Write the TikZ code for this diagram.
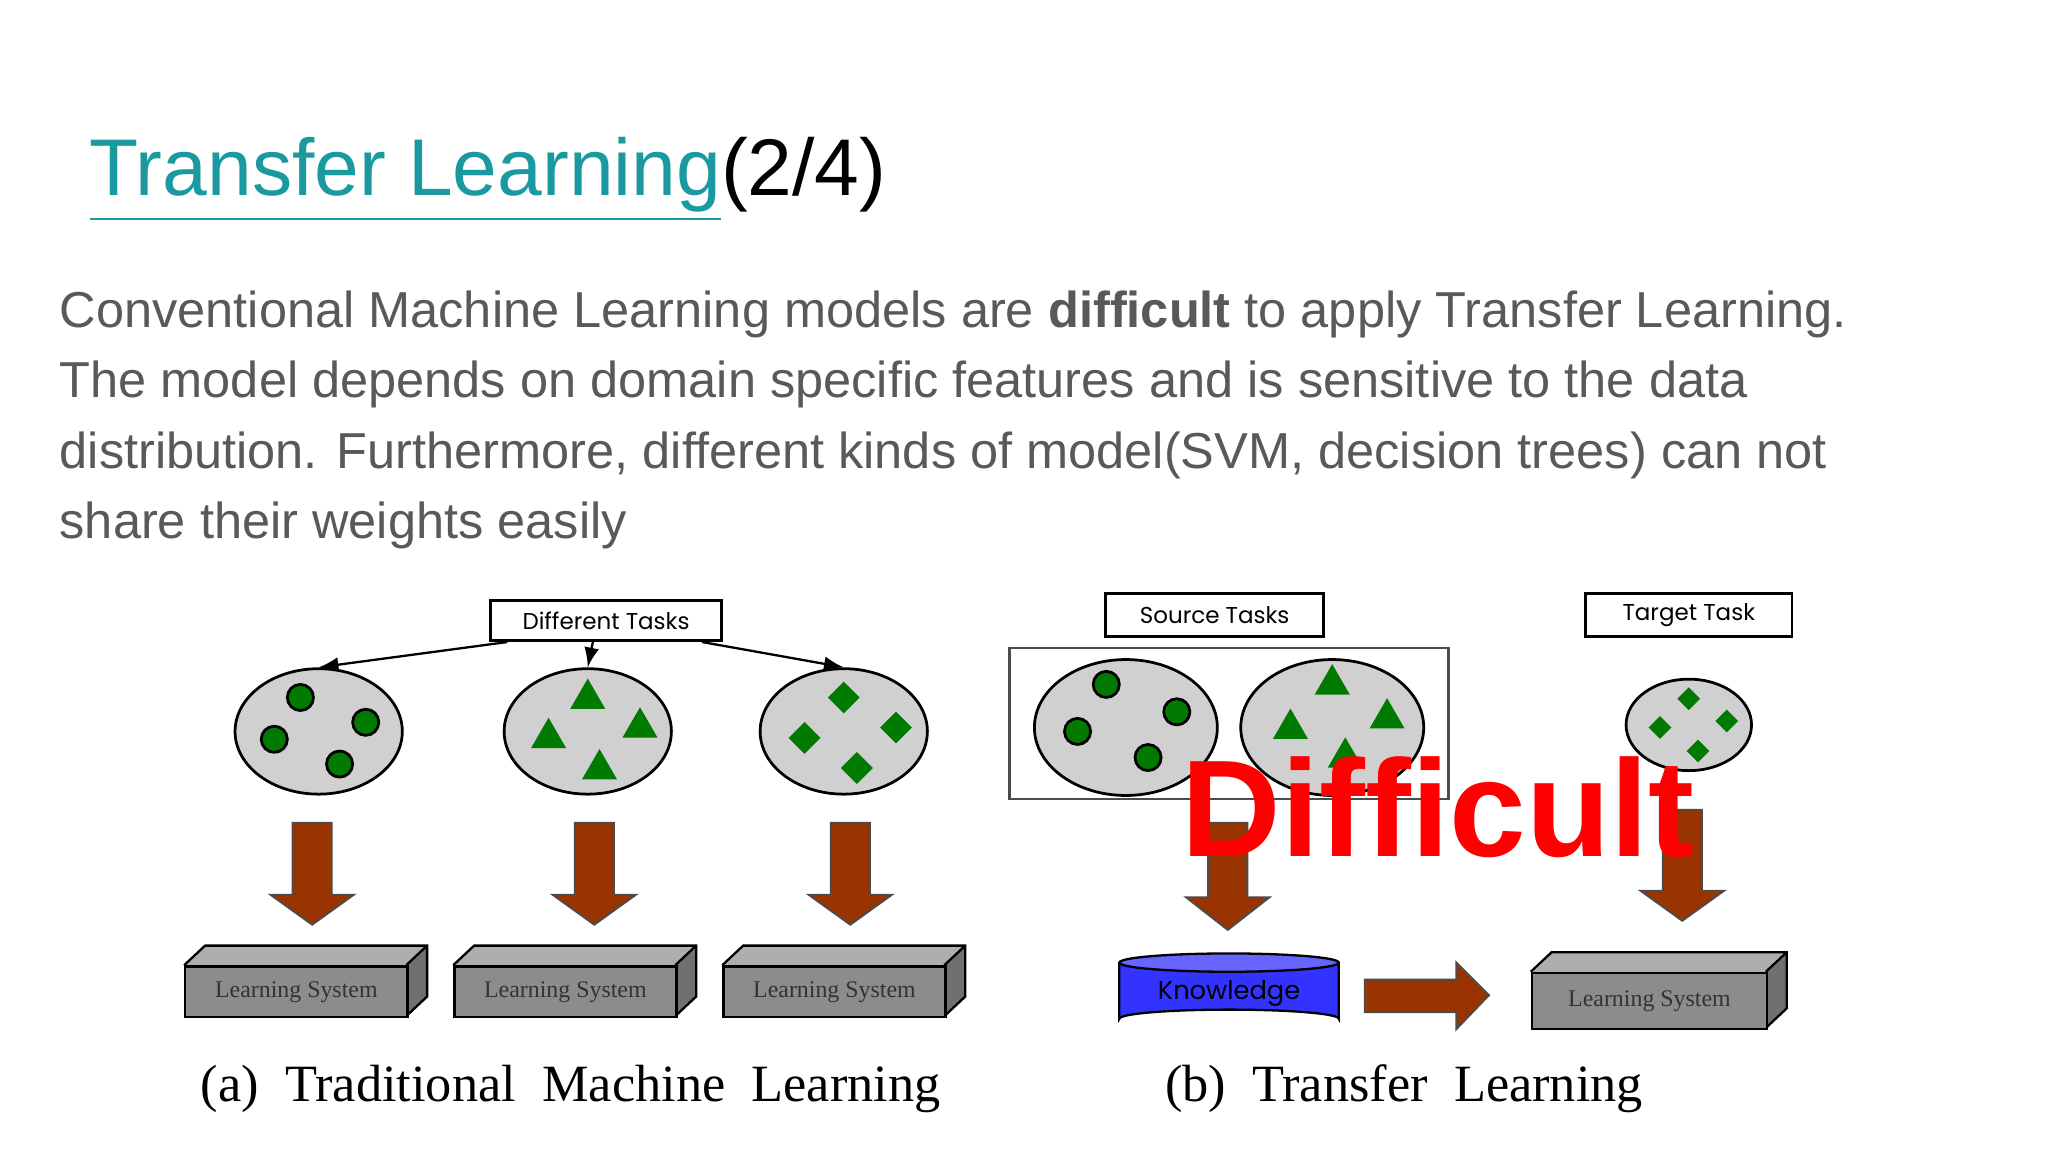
\documentclass[tikz,border=0pt]{standalone}
\usepackage{fontspec}
\setmainfont{Liberation Serif}
\newfontfamily\bodyf{Liberation Sans}
\newfontfamily\labf{Poppins}
\usetikzlibrary{shapes.geometric}
\definecolor{teal1}{HTML}{1A9AA0}
\definecolor{gtext}{HTML}{595959}
\definecolor{brown1}{HTML}{993300}
\definecolor{gr1}{HTML}{D0D0D0}
\definecolor{gbox}{HTML}{8C8C8C}
\definecolor{grn}{HTML}{007A00}
\begin{document}
\begin{tikzpicture}[x=0.01cm,y=-0.01cm,
  lab/.style={draw,line width=0.6pt,fill=white,font=\labf\fontsize{5}{6}\selectfont,inner sep=0pt},
  ell/.style={ellipse,draw,line width=0.6pt,fill=gr1},
  dot/.style={circle,draw,line width=0.6pt,fill=grn,minimum size=0.2cm,inner sep=0pt},
  tri/.style={regular polygon,regular polygon sides=3,fill=grn,minimum size=0.31cm,inner sep=0pt},
  dia/.style={diamond,fill=grn,minimum size=0.25cm,inner sep=0pt,aspect=1.1},
  thin/.style={-latex,line width=0.5pt}]
\useasboundingbox (0,0) rectangle (1568,882);
\fill[white] (0,0) rectangle (1568,882);
% title
\node[anchor=base west,inner sep=0,font=\bodyf\fontsize{17.5}{21}\selectfont] (title) at (68,150)
 {\textcolor{teal1}{\underline{Transfer Learning}}(2/4)};
% body
\node[anchor=north west,inner sep=0,align=left,text=gtext,font=\bodyf\fontsize{11}{15.35}\selectfont] (body) at (45,222)
 {Conventional Machine Learning models are \textbf{difficult} to apply Transfer Learning.\\
 The model depends on domain specific features and is sensitive to the data\\
 distribution. Furthermore, different kinds of model(SVM, decision trees) can not\\
 share their weights easily};
% (a)
\node[lab,minimum width=1.77cm,minimum height=0.31cm] (dt) at (464,475) {Different Tasks};
\foreach \n/\x in {e1/244,e2/450,e3/646}{\node[ell,minimum width=1.28cm,minimum height=0.96cm] (\n) at (\x,560) {};}
\draw[thin] (dt.south west)++(14,0) -- (e1.north);
\draw[thin] (454,491) -- (e2.north);
\draw[thin] (dt.south east)++(-16,0) -- (e3.north);
\node[dot] at (230,534){};\node[dot] at (210,566){};\node[dot] at (280,553){};\node[dot] at (260,585){};
\node[tri] at (450,535){};\node[tri] at (420,565){};\node[tri] at (490,557){};\node[tri] at (459,589){};
\node[dia] at (646,534){};\node[dia] at (616,565){};\node[dia] at (686,557){};\node[dia] at (656,588){};
\newcommand{\bigarrow}[4]{\draw[fill=brown1,draw=black!70,line width=0.4pt] (#1-15,#2)--(#1+15,#2)--(#1+15,#3)--(#1+32,#3)--(#1,#4)--(#1-32,#3)--(#1-15,#3)--cycle;}
\bigarrow{239}{630}{685}{708}
\bigarrow{455}{630}{685}{708}
\bigarrow{651}{630}{685}{708}
\newcommand{\lsys}[5]{%
 \fill[gbox!80!black] (#1+#3,#2)--(#1+#3+16,#2-15)--(#1+#3+16,#2+#4-15)--(#1+#3,#2+#4)--cycle;
 \fill[gbox!70!white] (#1,#2)--(#1+16,#2-15)--(#1+#3+16,#2-15)--(#1+#3,#2)--cycle;
 \draw[line width=0.5pt] (#1,#2)--(#1+16,#2-15)--(#1+#3+16,#2-15)--(#1+#3+16,#2+#4-15)--(#1+#3,#2+#4) (#1+#3,#2)--(#1+#3+16,#2-15);
 \node[draw,line width=0.5pt,fill=gbox,anchor=north west,minimum width=#3*0.01cm,minimum height=#4*0.01cm,inner sep=0,font=\fontsize{5.2}{6}\selectfont,text=black!80] (#5) at (#1,#2) {Learning System};}
\lsys{141}{739}{170}{39}{ls1}
\lsys{347}{739}{170}{39}{ls2}
\lsys{553}{739}{170}{39}{ls3}
\node[anchor=base,font=\fontsize{11.4}{13}\selectfont,inner sep=0] (capa) at (437,843) {(a)\ \ Traditional\ \ Machine\ \ Learning};
% (b)
\node[lab,minimum width=1.67cm,minimum height=0.33cm] (st) at (930,471) {Source Tasks};
\node[lab,minimum width=1.58cm,minimum height=0.33cm] (tt) at (1293,471) {Target Task};
\draw[line width=0.5pt,draw=black!70] (773,496) rectangle (1109,612);
\node[ell,minimum width=1.4cm,minimum height=1.04cm] (f1) at (862,557) {};
\node[ell,minimum width=1.4cm,minimum height=1.04cm] (f2) at (1020,557) {};
\node[ell,minimum width=0.96cm,minimum height=0.7cm] (f3) at (1293,555) {};
\node[dot] at (847,524){};\node[dot] at (825,560){};\node[dot] at (901,545){};\node[dot] at (879,580){};
\node[tri] at (1020,524){};\node[tri] at (988,558){};\node[tri] at (1062,550){};\node[tri] at (1030,580){};
\begin{scope}[every node/.style={dia,minimum size=0.18cm}]
\node at (1293,535){};\node at (1271,557){};\node at (1322,552){};\node at (1300,575){};
\end{scope}
\bigarrow{940}{630}{687}{712}
\bigarrow{1288}{620}{682}{705}
% knowledge cylinder
\fill[blue!80] (857,737)--(857,780) arc[start angle=180,end angle=360,x radius=84,y radius=7] -- (1025,737) -- cycle;
\draw[line width=0.5pt] (857,737)--(857,780) arc[start angle=180,end angle=360,x radius=84,y radius=7] -- (1025,737);
\draw[line width=0.5pt,fill=blue!60] (941,737) ellipse [x radius=84,y radius=7];
\node[font=\labf\fontsize{5.6}{6}\selectfont,inner sep=0] (kn) at (941,761) {Knowledge};
\draw[fill=brown1,draw=black!70,line width=0.4pt] (1045,750)--(1115,750)--(1115,737)--(1140,762)--(1115,788)--(1115,775)--(1045,775)--cycle;
\lsys{1172}{744}{180}{43}{ls4}
\node[anchor=base,font=\fontsize{11.4}{13}\selectfont,inner sep=0] (capb) at (1075,843) {(b)\ \ Transfer\ \ Learning};
\node[text=red,font=\bodyf\bfseries\fontsize{30}{32}\selectfont,inner sep=0] (diff) at (1101,618) {Difficult};
\end{tikzpicture}
\end{document}
